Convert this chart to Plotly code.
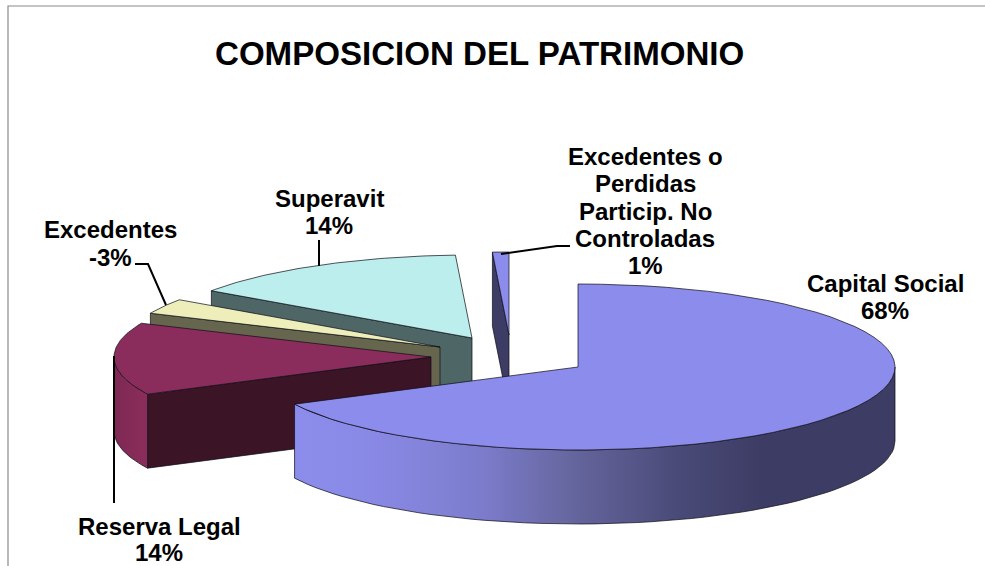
import math
import plotly.graph_objects as go

# ---- data ----
categories = ["Capital Social", "Reserva Legal", "Excedentes", "Superavit", "Excedentes o Perdidas Particip. No Controladas"]
slice_sizes = [68, 14, 3, 14, 1]
shown_percent = ["68%", "14%", "-3%", "14%", "1%"]
title_text = "COMPOSICION DEL PATRIMONIO"

# ---- geometry / style (pixel-based axes, 985x566) ----
W, H = 985, 566
RX, RY, DEPTH = 317, 83, 74
apex_x = [578, 431, 440, 472, 509]
apex_y = [367, 357, 347, 338, 335]
# small per-boundary corrections for the picture's 3D projection (degrees)
boundary_adjust = [0, -1.4, -1.2, -1.3, 0.6, 0]
top_col = ["#8C8CEC", "#8B2D5C", "#EEEEBB", "#BBEEEC", "#8C8CEC"]
dark_col = ["#3C3C64", "#3B1426", "#66664E", "#4E6666", "#3C3C64"]
EDGE = "rgba(15,15,25,0.9)"
FONT = "Liberation Sans, Arial, sans-serif"

total = sum(slice_sizes)
angles = [0]
for v in slice_sizes:
    angles.append(angles[-1] + 360 * v / total)
angles = [a + d for a, d in zip(angles, boundary_adjust)]


def pt(i, deg, dy=0):
    t = math.radians(deg)
    return apex_x[i] + RX * math.sin(t), apex_y[i] - RY * math.cos(t) + dy


def arc(i, a, b, dy=0, n=60):
    return [pt(i, a + (b - a) * k / n, dy) for k in range(n + 1)]


def poly(points, fill=None, gradient=None, edge=EDGE, width=0.8):
    xs = [p[0] for p in points] + [points[0][0]]
    ys = [p[1] for p in points] + [points[0][1]]
    kw = dict(fillgradient=gradient) if gradient else dict(fillcolor=fill)
    return go.Scatter(x=xs, y=ys, mode="lines", fill="toself",
                      line=dict(color=edge, width=width), hoverinfo="skip", **kw)


def top(i):
    return [(apex_x[i], apex_y[i])] + arc(i, angles[i], angles[i + 1])


def cut_face(i, deg):
    c = (apex_x[i], apex_y[i])
    return [c, pt(i, deg), pt(i, deg, DEPTH), (c[0], c[1] + DEPTH)]


def wall(i, a, b):
    return arc(i, a, b) + arc(i, b, a, DEPTH)


traces = []
# painter's order: back slices first, the big front slice last
# Excedentes o Perdidas
traces += [poly(cut_face(4, angles[4]), dark_col[4]), poly(top(4), top_col[4])]
# Superavit
traces += [poly(cut_face(3, angles[3]), dark_col[3]), poly(top(3), top_col[3])]
# Excedentes
traces += [poly(cut_face(2, angles[2]), dark_col[2]), poly(top(2), top_col[2])]
# Reserva Legal
traces += [poly(cut_face(1, angles[1]), dark_col[1]),
           poly(wall(1, angles[1], 270),
                gradient=dict(type="horizontal",
                              colorscale=[[0, "#7E2953"], [1, "#8B2D5C"]])),
           poly(top(1), top_col[1])]
# Capital Social
traces += [poly(wall(0, 90, angles[1]),
                gradient=dict(type="horizontal",
                              colorscale=[[0, "#8C8CEC"], [0.145, "#8888E4"], [0.31, "#7C7CCC"],
                                          [0.46, "#66669F"], [0.64, "#4A4A78"], [0.78, "#3C3C64"],
                                          [1, "#3C3C64"]])),
           poly(top(0), top_col[0])]


def line(xs, ys, color="#000000", width=2):
    return go.Scatter(x=xs, y=ys, mode="lines", line=dict(color=color, width=width), hoverinfo="skip")


# chart frame
traces.append(line([8, 8, W], [H, 6, 6], color="#8A8A8A", width=1.2))
# leader lines
traces.append(line([319, 319], [240, 266]))
traces.append(line([135, 148, 166], [264, 264, 305]))
traces.append(line([570, 557, 501], [246, 246, 254]))
traces.append(line([114, 114], [356, 503]))

fig = go.Figure(traces)

label_lines = [
    (885, [283, 310], [categories[0], shown_percent[0]]),
    (159, [526, 552], [categories[1], shown_percent[1]]),
    (110, [229, 257], [categories[2], shown_percent[2]]),
    (329, [198, 225], [categories[3], shown_percent[3]]),
    (645, [156, 183, 211, 238, 265], ["Excedentes o", "Perdidas", "Particip. No", "Controladas", shown_percent[4]]),
]
ann = [dict(x=479.5, y=53, text="<b>%s</b>" % title_text, showarrow=False, xanchor="center", yanchor="middle",
            font=dict(family=FONT, size=33.1, color="#000000"))]
for x, ys, texts in label_lines:
    for y, t in zip(ys, texts):
        ann.append(dict(x=x, y=y, text="<b>%s</b>" % t, showarrow=False, xanchor="center", yanchor="middle",
                        font=dict(family=FONT, size=24, color="#000000")))

fig.update_layout(
    width=W, height=H, margin=dict(l=0, r=0, t=0, b=0),
    paper_bgcolor="#FFFFFF", plot_bgcolor="#FFFFFF", showlegend=False,
    xaxis=dict(range=[0, W], visible=False, fixedrange=True),
    yaxis=dict(range=[H, 0], visible=False, fixedrange=True),
    annotations=ann,
)
fig.write_html("out.html", config=dict(displayModeBar=False),
               post_script="document.body.style.margin='0';document.body.style.overflow='hidden';")
